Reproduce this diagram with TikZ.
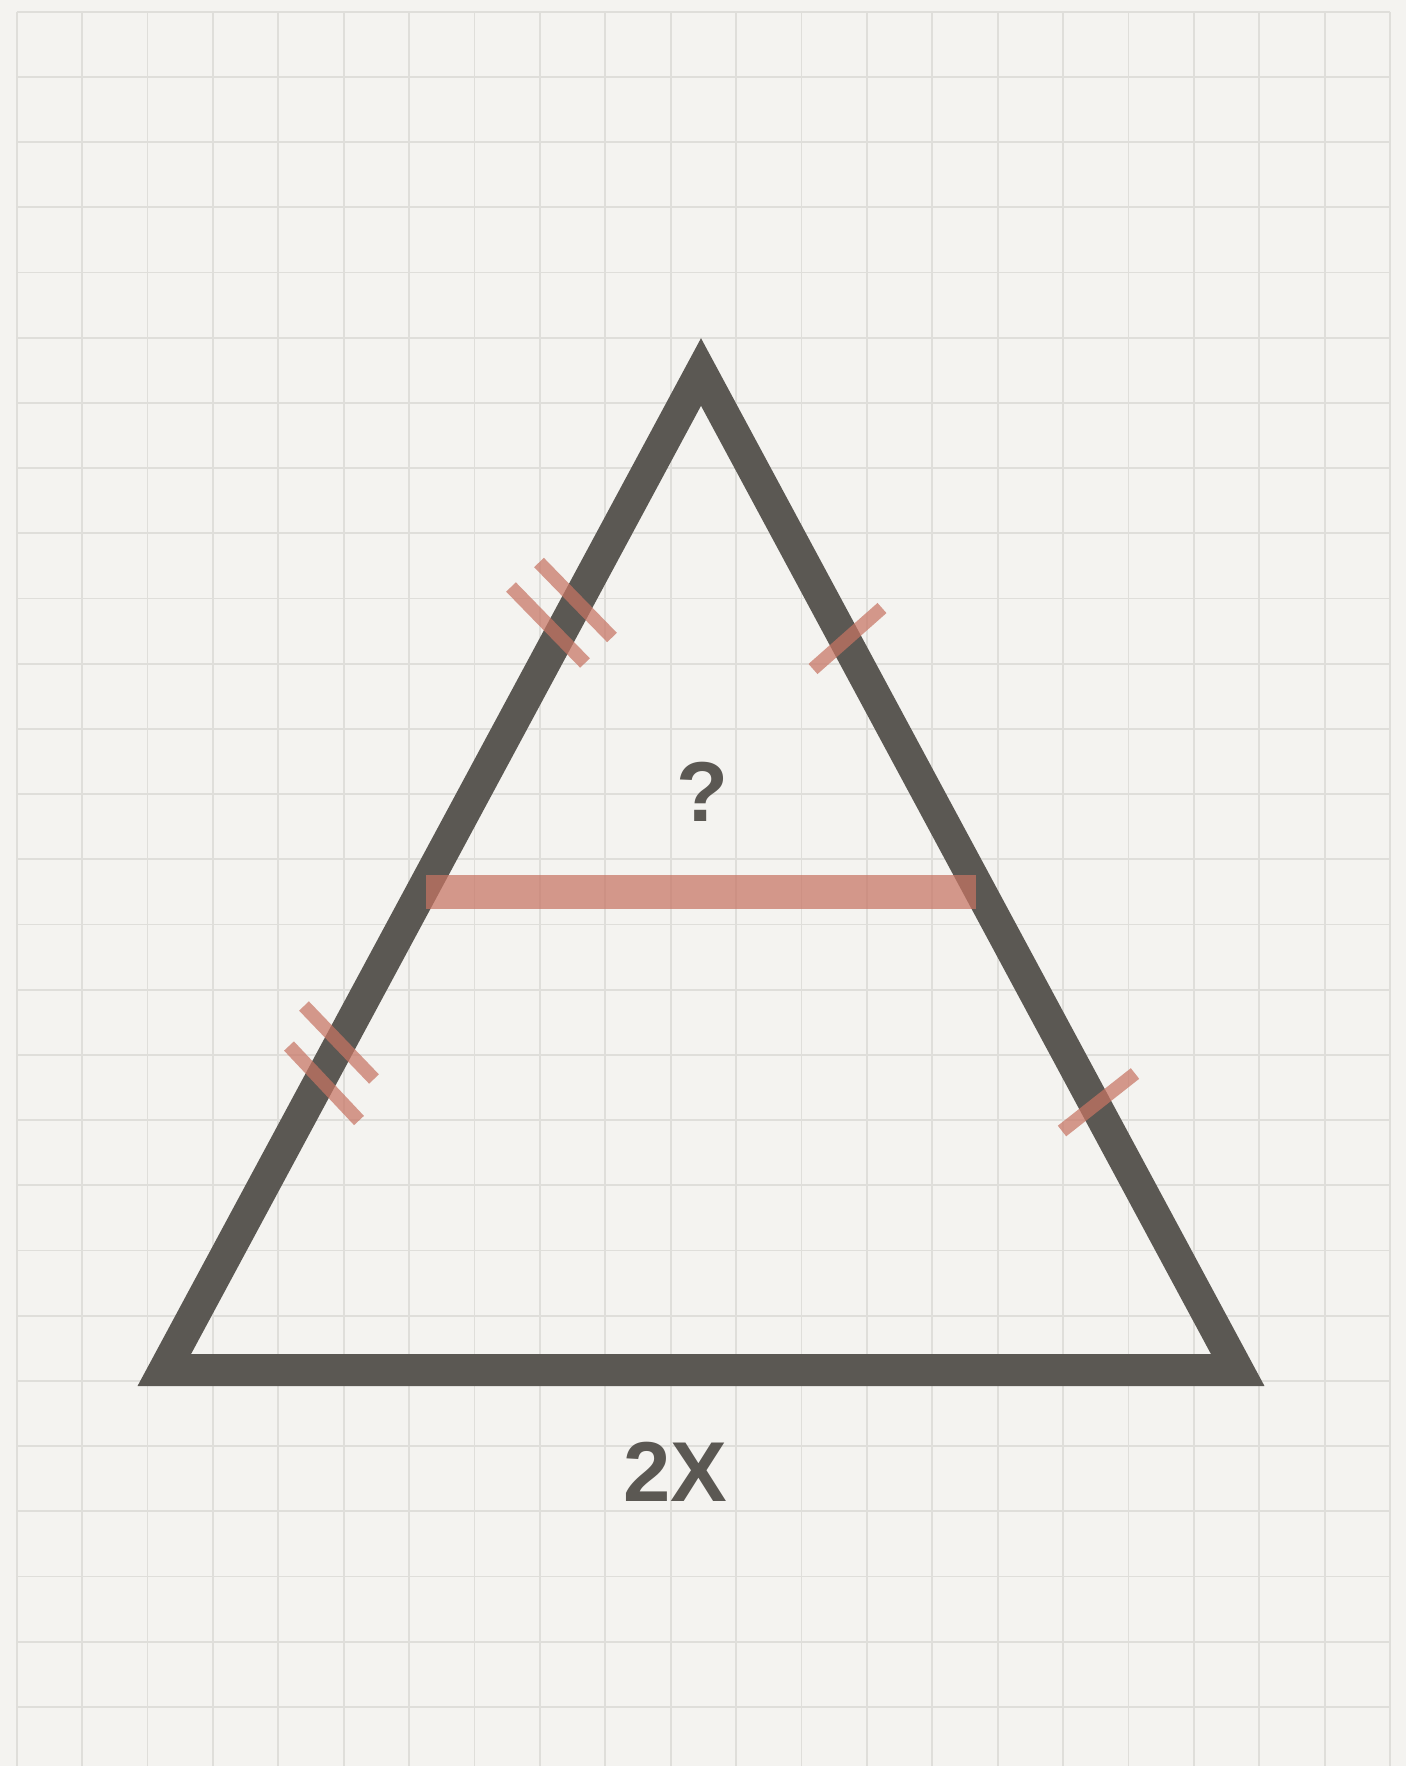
\documentclass[tikz,border=0pt]{standalone}
\usepackage{fontspec}
\setmainfont{Liberation Sans}
\usetikzlibrary{positioning}
\definecolor{sheetPaper}{HTML}{F4F3F0}
\definecolor{sheetGrid}{HTML}{DFDEDA}
\definecolor{sheetInk}{HTML}{5B5853}
\definecolor{sheetRed}{HTML}{C77463}

\begin{document}
\begin{tikzpicture}[
    x=0.5pt, y=-0.5pt,
    gridline/.style={draw=sheetGrid, line width=0.85pt},
    edge/.style={draw=sheetInk, line width=16pt, line join=miter},
    midbar/.style={draw=sheetRed, draw opacity=0.72, line width=17pt},
    tick/.style={draw=sheetRed, draw opacity=0.72, line width=6.75pt},
    tag/.style={inner sep=0pt, text=sheetInk,
                font=\fontsize{42.5}{50}\selectfont\bfseries},
  ]
    % paper and grid
    \fill[sheetPaper] (0,0) rectangle (1406,1766);
    \useasboundingbox (0,0) rectangle (1406,1766);
    \foreach \i in {0,...,21}
      \draw[gridline] ({16.7+\i*65.4},11.7) -- ({16.7+\i*65.4},1766);
    \foreach \j in {0,...,26}
      \draw[gridline] (16.7,{11.7+\j*65.2}) -- (1390,{11.7+\j*65.2});

    % triangle
    \coordinate (apex) at (701,372);
    \coordinate (baseL) at (164.3,1370);
    \coordinate (baseR) at (1237.7,1370);
    \draw[edge] (apex) -- (baseL) -- (baseR) -- cycle;

    % midsegment
    \coordinate (midL) at (426,892);
    \coordinate (midR) at (976,892);
    \draw[midbar] (midL) -- (midR);

    % equal-length ticks
    \draw[tick] (511,587) -- (585,663);
    \draw[tick] (539,562.5) -- (612,637.5);
    \draw[tick] (304,1006) -- (374,1079);
    \draw[tick] (289,1046) -- (359,1120.5);
    \draw[tick] (813,669) -- (882,608);
    \draw[tick] (1062,1131) -- (1135,1073.5);

    % labels
    \node[tag] (unknown) at (702,792) {?};
    \node[tag] (baseLen) at (675,1472) {2X};
  \end{tikzpicture}
\end{document}
